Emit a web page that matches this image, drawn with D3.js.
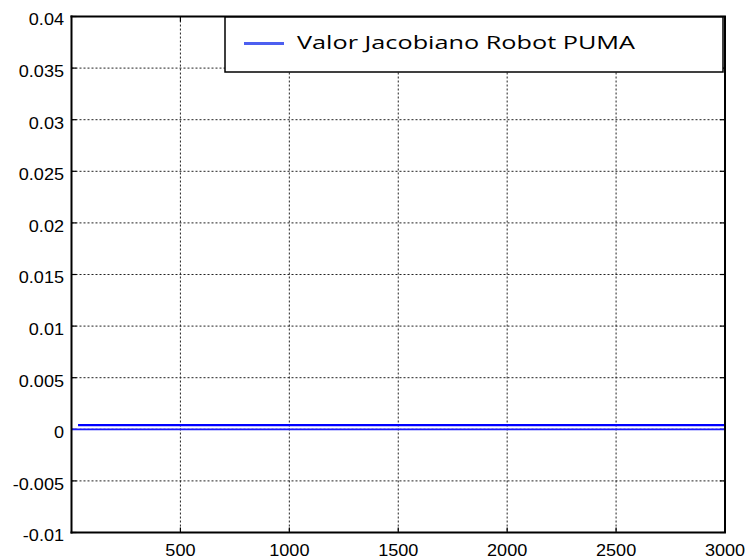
<!DOCTYPE html>
<html>
<head>
<meta charset="utf-8">
<script src="https://cdn.jsdelivr.net/npm/d3@7"></script>
<style>
  html, body { margin: 0; padding: 0; background: #fff; }
  svg { display: block; }
</style>
</head>
<body>
<svg id="chart" width="748" height="558"></svg>
<script>
// Jacobian determinant of the PUMA robot along the trajectory (samples)
const jacobianX = [30, 3000];
const jacobianY = [0.0004, 0.0004];
// zero reference trace
const zeroX = [0, 3000];
const zeroY = [0, 0];

const xTicks = [500, 1000, 1500, 2000, 2500, 3000];
const yTicks = [-0.01, -0.005, 0, 0.005, 0.01, 0.015, 0.02, 0.025, 0.03, 0.035, 0.04];
const yTickLabels = ["-0.01", "-0.005", "0", "0.005", "0.01", "0.015", "0.02", "0.025", "0.03", "0.035", "0.04"];
const legendLabel = "Valor Jacobiano Robot PUMA";

const svg = d3.select("#chart");
const plotL = 71.5, plotR = 725, plotT = 16.5, plotB = 532.5;

const x = d3.scaleLinear().domain([0, 3000]).range([plotL, plotR]);
const y = d3.scaleLinear().domain([-0.01, 0.04]).range([plotB, plotT]);

// dotted grid
const grid = svg.append("g");
grid.selectAll("line.gx").data(xTicks).join("line")
  .attr("x1", d => x(d)).attr("x2", d => x(d))
  .attr("y1", plotT).attr("y2", plotB)
  .attr("stroke", "#222").attr("stroke-width", 1).attr("stroke-dasharray", "2,2");
grid.selectAll("line.gy").data(yTicks).join("line")
  .attr("x1", plotL).attr("x2", plotR)
  .attr("y1", d => y(d)).attr("y2", d => y(d))
  .attr("stroke", "#222").attr("stroke-width", 1).attr("stroke-dasharray", "2,2");

// inward tick marks on all four sides
const tl = 5;
const ticks = svg.append("g").attr("stroke", "#000").attr("stroke-width", 1.2);
xTicks.forEach(t => {
  ticks.append("line").attr("x1", x(t)).attr("x2", x(t)).attr("y1", plotB).attr("y2", plotB - tl);
  ticks.append("line").attr("x1", x(t)).attr("x2", x(t)).attr("y1", plotT).attr("y2", plotT + tl);
});
yTicks.forEach(t => {
  ticks.append("line").attr("x1", plotL).attr("x2", plotL + tl).attr("y1", y(t)).attr("y2", y(t));
  ticks.append("line").attr("x1", plotR).attr("x2", plotR - tl).attr("y1", y(t)).attr("y2", y(t));
});

// data lines
const line = d3.line().x(d => x(d[0])).y(d => y(d[1]));
svg.append("path")
  .datum(zeroX.map((d, i) => [d, zeroY[i]]))
  .attr("d", line).attr("fill", "none")
  .attr("stroke", "#1a1aff").attr("stroke-width", 1.8);
svg.append("path")
  .datum(jacobianX.map((d, i) => [d, jacobianY[i]]))
  .attr("d", line).attr("fill", "none")
  .attr("stroke", "#0000ff").attr("stroke-width", 2.2);

// frame
const frame = svg.append("g").attr("stroke", "#000").attr("fill", "none");
frame.append("line").attr("x1", plotL).attr("x2", plotL).attr("y1", plotT - 1).attr("y2", plotB + 1).attr("stroke-width", 2);
frame.append("line").attr("x1", plotL - 1).attr("x2", plotR + 1).attr("y1", plotB).attr("y2", plotB).attr("stroke-width", 2);
frame.append("line").attr("x1", plotL - 1).attr("x2", plotR + 1).attr("y1", plotT).attr("y2", plotT).attr("stroke-width", 2);
frame.append("line").attr("x1", plotR).attr("x2", plotR).attr("y1", plotT).attr("y2", plotB).attr("stroke-width", 2);

// tick labels
const labelFont = "'Liberation Sans', Arial, sans-serif";
const sx = 1.13;
svg.append("g").selectAll("text").data(yTicks).join("text")
  .attr("transform", d => `translate(64,${y(d) + 8.8}) scale(${sx},1)`)
  .attr("text-anchor", "end")
  .attr("font-family", labelFont).attr("font-size", 16).attr("fill", "#000")
  .text((d, i) => yTickLabels[i]);
svg.append("g").selectAll("text").data(xTicks).join("text")
  .attr("transform", d => `translate(${x(d)},555.5) scale(${sx},1)`)
  .attr("text-anchor", "middle")
  .attr("font-family", labelFont).attr("font-size", 16).attr("fill", "#000")
  .text(d => d);

// legend
const lg = svg.append("g");
lg.append("rect").attr("x", 225).attr("y", 17).attr("width", 498).attr("height", 55)
  .attr("fill", "#fff").attr("stroke", "#000").attr("stroke-width", 1.5);
lg.append("line").attr("x1", 244).attr("x2", 284).attr("y1", 43.5).attr("y2", 43.5)
  .attr("stroke", "#4d5ff0").attr("stroke-width", 3);
lg.append("text").attr("x", 297).attr("y", 49)
  .attr("font-family", "'Open Sans', Lato, sans-serif").attr("font-size", 19)
  .attr("font-weight", 400)
  .attr("textLength", 338).attr("lengthAdjust", "spacingAndGlyphs")
  .attr("fill", "#000").text(legendLabel);
</script>
</body>
</html>
